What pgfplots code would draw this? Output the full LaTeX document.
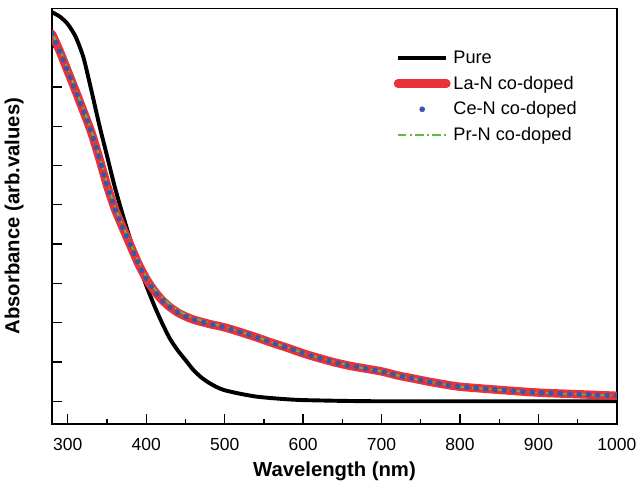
\documentclass[border=0pt]{standalone}
\usepackage{pgfplots}
\pgfplotsset{compat=1.18}
\usepackage{fontspec}
\setmainfont{Liberation Sans}
\setsansfont{Liberation Sans}

\definecolor{laRed}{HTML}{E8333A}
\definecolor{ceBlue}{HTML}{3A56A8}
\definecolor{prGreen}{HTML}{5DBB46}

\pgfplotstableread{
w y
280 9.90
290 9.79
300 9.60
310 9.28
320 8.75
330 7.92
340 7.05
350 6.25
360 5.45
370 4.75
380 4.10
390 3.50
400 2.95
410 2.45
420 2.00
430 1.60
440 1.30
450 1.05
460 0.80
470 0.61
480 0.47
490 0.36
500 0.28
520 0.19
540 0.12
560 0.08
580 0.05
600 0.03
650 0.01
700 0
800 0
900 0
1000 0
}\pure

\pgfplotstableread{
w y
280 9.35
290 8.90
300 8.40
310 7.90
320 7.38
330 6.85
340 6.20
350 5.50
360 4.90
370 4.42
380 3.96
390 3.50
400 3.12
410 2.82
420 2.58
430 2.40
440 2.26
450 2.16
460 2.08
480 1.97
500 1.88
520 1.76
540 1.63
560 1.49
580 1.36
600 1.22
620 1.10
640 0.99
660 0.90
680 0.83
700 0.76
720 0.66
740 0.58
760 0.50
780 0.43
800 0.37
850 0.29
900 0.22
950 0.18
1000 0.14
}\lan

\pgfplotstableread{
w y
280 9.35
290 8.90
300 8.40
310 7.90
320 7.38
330 6.85
340 6.20
350 5.50
360 4.90
370 4.42
380 3.96
390 3.50
400 3.12
410 2.82
420 2.58
430 2.40
440 2.26
450 2.16
460 2.08
480 1.97
500 1.88
520 1.76
540 1.63
560 1.49
580 1.36
600 1.22
620 1.10
640 0.99
660 0.90
680 0.83
700 0.76
720 0.66
740 0.58
760 0.50
780 0.43
800 0.37
850 0.29
900 0.22
950 0.18
1000 0.14
}\cen

\pgfplotstableread{
w y
280 9.38
290 8.94
300 8.45
310 7.95
320 7.43
330 6.90
340 6.25
350 5.56
360 4.96
370 4.48
380 4.02
390 3.56
400 3.18
410 2.88
420 2.65
430 2.47
440 2.32
450 2.21
460 2.12
480 2.00
500 1.90
520 1.77
540 1.64
560 1.50
580 1.37
600 1.23
620 1.11
640 1.00
660 0.91
680 0.83
700 0.76
720 0.66
740 0.58
760 0.50
780 0.43
800 0.37
850 0.29
900 0.22
950 0.18
1000 0.14
}\prn

\begin{document}
\begin{tikzpicture}
\begin{axis}[
    scale only axis,
    width=14.2cm,
    height=10.45cm,
    xmin=280, xmax=1000,
    ymin=-0.58, ymax=10,
    xtick={300,400,...,1000},
    minor xtick={350,450,...,950},
    ytick={0,1,...,9},
    yticklabels={},
    tick align=inside,
    xtick pos=bottom,
    ytick pos=left,
    major tick length=0.25cm,
    minor tick length=0.12cm,
    axis line style={line width=1pt},
    every tick/.style={black, line width=0.9pt},
    tick label style={font=\fontsize{12.5}{14}\selectfont},
    xticklabel style={yshift=-7pt},
    /pgf/number format/assume math mode=true,
    /pgf/number format/1000 sep={},
    xlabel={\textbf{Wavelength (nm)}},
    ylabel={\textbf{Absorbance (arb.values)}},
    label style={font=\fontsize{14.5}{17}\selectfont},
    xlabel style={yshift=-1pt},
    ylabel style={yshift=10pt},
    legend style={draw=none, fill=none, at={(0.597,0.912)}, anchor=north west,
        font=\fontsize{13}{15}\selectfont, row sep=3.5pt},
    legend cell align=left,
    legend image code/.code={\draw[#1] (0cm,0cm) -- (1.22cm,0cm);},
]
% legend entries first, curves below
\addlegendimage{black, line width=2.8pt}
\addlegendentry{Pure}
\addlegendimage{laRed, line width=6pt, line cap=round}
\addlegendentry{La-N co-doped}
\addlegendimage{ceBlue, legend image code/.code={\fill[ceBlue] (0.61cm,0cm) circle (1.8pt);}}
\addlegendentry{Ce-N co-doped}
\addlegendimage{prGreen, line width=1.3pt, dash pattern=on 6pt off 2.5pt on 1.3pt off 2.5pt}
\addlegendentry{Pr-N co-doped}

\addplot[black, line width=2.8pt, smooth, tension=0.4, forget plot] table[x=w, y=y] {\pure};
\addplot[laRed, line width=6pt, line cap=round, smooth, tension=0.4, forget plot] table[x=w, y=y] {\lan};
\addplot[prGreen, line width=1.3pt, smooth, tension=0.4, dash pattern=on 6pt off 2.5pt on 1.3pt off 2.5pt, forget plot] table[x=w, y=y] {\prn};
\addplot[ceBlue, line width=3.8pt, line cap=round, smooth, tension=0.4, dash pattern=on 0.2pt off 6.5pt, forget plot] table[x=w, y=y] {\cen};
\end{axis}
\path (current axis.north) ++(0,6pt);
\end{tikzpicture}
\end{document}
